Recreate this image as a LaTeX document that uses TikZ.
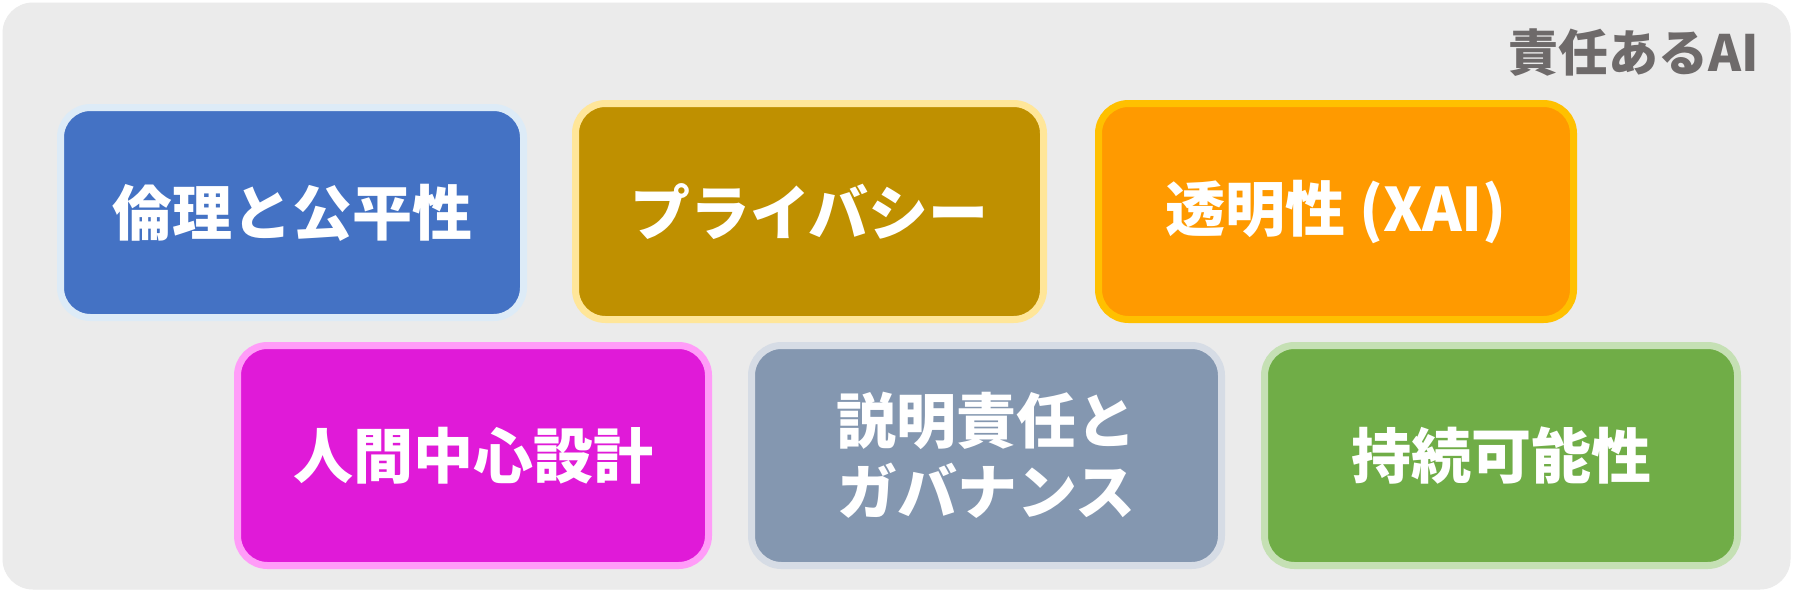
\documentclass[tikz,border=0pt]{standalone}
\usepackage{fontspec}
\newfontfamily\jp{Noto Sans CJK JP}
\definecolor{bgc}{HTML}{EBEBEB}
\definecolor{titlec}{HTML}{6E6A6A}
\definecolor{bluef}{HTML}{4472C4}\definecolor{blueb}{HTML}{DDEBF7}
\definecolor{goldf}{HTML}{BF9000}\definecolor{goldb}{HTML}{FFE699}
\definecolor{orangef}{HTML}{FF9A00}\definecolor{orangeb}{HTML}{FFC000}
\definecolor{magf}{HTML}{E01AD8}\definecolor{magb}{HTML}{FF9CF8}
\definecolor{grayf}{HTML}{8497B0}\definecolor{grayb}{HTML}{D6DCE5}
\definecolor{greenf}{HTML}{70AD47}\definecolor{greenb}{HTML}{C5E0B4}
\tikzset{
  pillar/.style n args={2}{draw=#2, fill=#1, line width=7pt, rounded corners=30pt,
    text=white, font=\jp\bfseries\fontsize{60}{71}\selectfont, align=center,
    inner sep=0pt, rectangle},
}
\begin{document}
\begin{tikzpicture}[x=1pt,y=-1pt]
\useasboundingbox (0,0) rectangle (1793,592);
\fill[white] (0,0) rectangle (1793,592);
\draw[fill=bgc, draw=black!8, line width=1pt, rounded corners=30pt] (3,3) rectangle (1790,589);
\node[anchor=east, text=titlec, font=\jp\bfseries\fontsize{50}{60}\selectfont, inner sep=0pt] (title) at (1759,53) {責任あるAI};
\node[pillar={bluef}{blueb}, minimum width=463pt, minimum height=210pt] (ethics) at (292,212.5) {倫理と公平性};
\node[pillar={goldf}{goldb}, minimum width=468pt, minimum height=216pt] (privacy) at (809.5,211.5) {プライバシー};
\node[pillar={orangef}{orangeb}, minimum width=475pt, minimum height=216pt] (xai) at (1336,211.5) {透明性 (XAI)};
\node[pillar={magf}{magb}, minimum width=471pt, minimum height=220pt] (human) at (473,455.5) {人間中心設計};
\node[pillar={grayf}{grayb}, minimum width=470pt, minimum height=220pt] (gov) at (986.5,455.5) {説明責任と\\ガバナンス};
\node[pillar={greenf}{greenb}, minimum width=473pt, minimum height=220pt] (sust) at (1501,455.5) {持続可能性};
\end{tikzpicture}
\end{document}
